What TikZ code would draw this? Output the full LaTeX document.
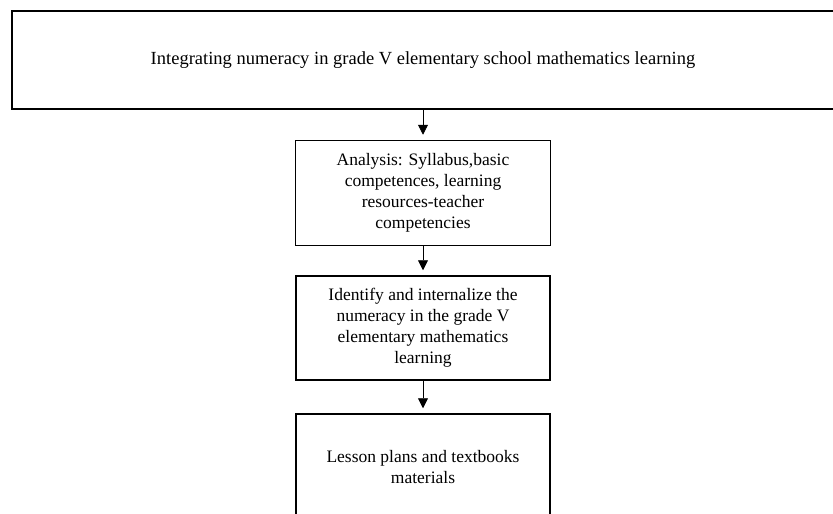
\documentclass[tikz,border=0pt]{standalone}
\usepackage{fontspec}
\setmainfont{Liberation Serif}
\usetikzlibrary{positioning}
\usetikzlibrary{arrows.meta}

\begin{document}
\begin{tikzpicture}[x=1pt,y=-1pt,
  stage/.style={draw,line width=1.5pt,align=center,inner sep=0pt,font=\fontsize{17.5}{21}\selectfont},
  flow/.style={-{Triangle[width=10pt,length=10pt]},line width=0.8pt,shorten >=5pt}]
  \useasboundingbox (0,0) rectangle (833,514);
  \clip (0,0) rectangle (833,514);

  \node [stage,minimum width=822pt,minimum height=98pt,font=\fontsize{18.5}{22}\selectfont] (goal) at (423,60) {Integrating numeracy in grade V elementary school mathematics learning};
  \node [stage,minimum width=255pt,minimum height=105pt] (analysis) at (423,193) {Analysis: Syllabus,basic\\competences, learning\\resources-teacher\\competencies};
  \node [stage,minimum width=254pt,minimum height=104pt] (identify) at (423,328) {Identify and internalize the\\numeracy in the grade V\\elementary mathematics\\learning};
  \node [stage,minimum width=254pt,minimum height=106pt] (lesson)   at (423,467) {Lesson plans and textbooks\\materials};

  \draw [flow] (goal) -- (analysis);
  \draw [flow] (analysis) -- (identify);
  \draw [flow] (identify) -- (lesson);
\end{tikzpicture}
\end{document}
